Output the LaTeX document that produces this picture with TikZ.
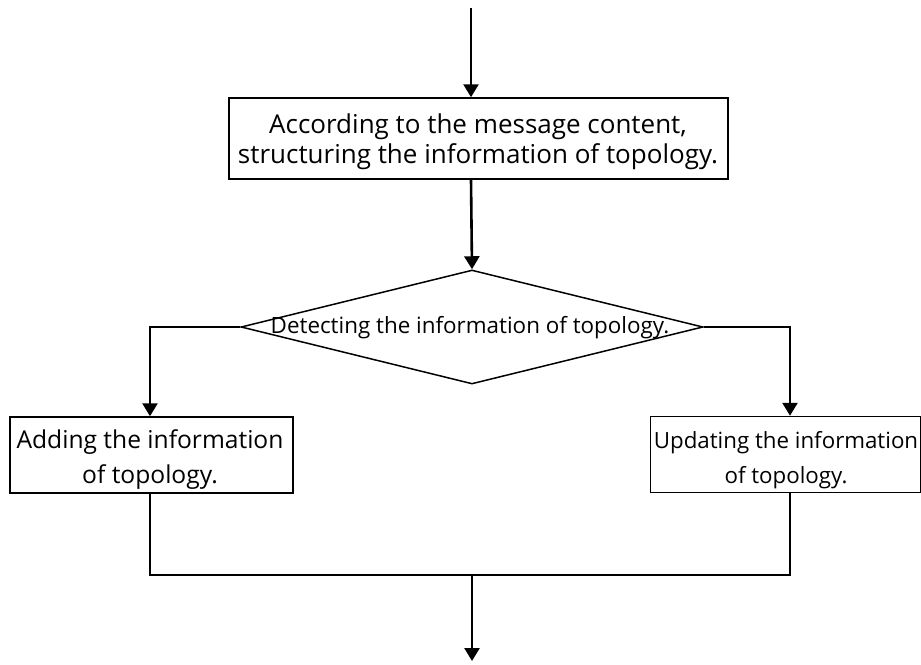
\documentclass[tikz,border=0pt]{standalone}
\usepackage{fontspec}
\setmainfont{Open Sans}
\usetikzlibrary{shapes.geometric,arrows.meta,calc}
\tikzset{
  procbox/.style={draw=black,line width=1.5pt,fill=white,inner sep=0pt,align=center},
  decision/.style={draw=black,line width=1.5pt,diamond,inner sep=0pt,minimum width=462pt,minimum height=114pt},
  flow/.style={draw=black,line width=2.6pt},
  arr/.style={flow,-{Triangle[width=15pt,length=13pt]}},
  txt/.style={font=\fontsize{26pt}{30pt}\selectfont,align=center,inner sep=0pt},
  smalltxt/.style={font=\fontsize{22.4pt}{26pt}\selectfont,inner sep=0pt}
}
\begin{document}
\begin{tikzpicture}[x=1pt,y=-1pt]
\useasboundingbox (0,0) rectangle (921,664);
\node[procbox,minimum width=499pt,minimum height=81pt] (top) at (478.5,138.5) {};
\node[txt] (toptxt) at (478,142) {According to the message content,\\structuring the information of topology.};
\node[decision] (dec) at (472,327) {};
\node[smalltxt] (dectxt) at (470,328) {Detecting the information of topology.};
\node[procbox,minimum width=283pt,minimum height=76pt] (left) at (151.5,455) {};
\node[txt,font=\fontsize{24.6pt}{35pt}\selectfont] (lefttxt) at (150,460) {Adding the information\\of topology.};
\node[procbox,minimum width=270pt,minimum height=76pt] (right) at (785.5,454.5) {};
\node[txt,font=\fontsize{22.3pt}{35pt}\selectfont] (righttxt) at (786,460) {Updating the information\\of topology.};
\coordinate (start) at (471,8);
\coordinate (lx) at (150,0);
\coordinate (rx) at (790,0);
\coordinate (merge) at (472,575);
\coordinate (finish) at (472,661);
\draw[arr] (start) -- (start |- top.north);
\draw[arr] (start |- top.south) -- (dec.north);
\draw[arr] (dec.west) -| (lx |- left.north);
\draw[arr] (dec.east) -| (rx |- right.north);
\draw[flow] (lx |- left.south) |- (merge) -| (rx |- right.south);
\draw[arr] (merge) -- (finish);
\end{tikzpicture}
\end{document}
